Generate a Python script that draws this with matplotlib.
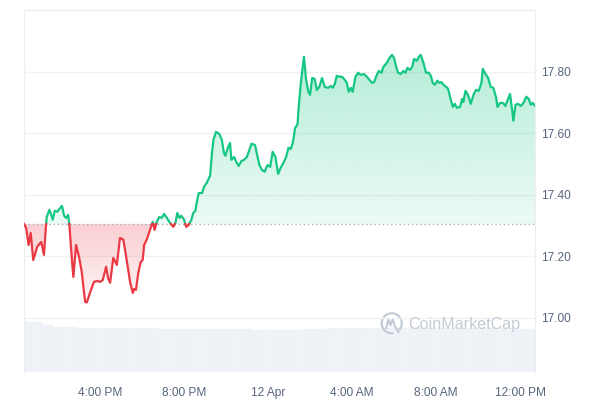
import numpy as np
import matplotlib.pyplot as plt
from matplotlib.patches import PathPatch, Arc
from matplotlib.path import Path

# hours since 12:00 PM, 11 Apr
hours = [0.38, 0.48, 0.60, 0.70, 0.82, 1.01, 1.20, 1.33, 1.43, 1.46,
         1.59, 1.65, 1.75, 1.84, 1.97, 2.06, 2.19, 2.29, 2.38, 2.48,
         2.54, 2.67, 2.73, 2.86, 3.01, 3.13, 3.29, 3.37, 3.52, 3.71,
         3.87, 4.00, 4.13, 4.29, 4.38, 4.48, 4.63, 4.80, 4.95, 5.11,
         5.27, 5.43, 5.56, 5.62, 5.71, 5.82, 5.94, 6.03, 6.10, 6.22,
         6.35, 6.41, 6.51, 6.60, 6.70, 6.82, 6.94, 7.05, 7.18, 7.33,
         7.49, 7.59, 7.68, 7.78, 7.87, 8.00, 8.10, 8.22, 8.35, 8.44,
         8.54, 8.60, 8.70, 8.86, 8.95, 9.08, 9.24, 9.33, 9.40, 9.52,
         9.68, 9.80, 9.90, 9.97, 10.10, 10.19, 10.25, 10.38, 10.51, 10.60,
         10.73, 10.86, 10.99, 11.08, 11.21, 11.38, 11.46, 11.59, 11.71, 11.84,
         11.97, 12.10, 12.22, 12.35, 12.48, 12.60, 12.73, 12.86, 12.97, 13.08,
         13.18, 13.29, 13.40, 13.46, 13.56, 13.65, 13.71, 13.81, 13.92, 14.00,
         14.10, 14.22, 14.32, 14.44, 14.57, 14.70, 14.86, 14.99, 15.08, 15.18,
         15.27, 15.40, 15.52, 15.65, 15.75, 15.84, 15.94, 16.03, 16.16, 16.29,
         16.41, 16.57, 16.70, 16.86, 16.95, 17.05, 17.14, 17.27, 17.40, 17.49,
         17.65, 17.78, 17.90, 18.00, 18.10, 18.19, 18.32, 18.44, 18.54, 18.63,
         18.76, 18.86, 18.95, 19.08, 19.18, 19.27, 19.40, 19.52, 19.65, 19.75,
         19.84, 19.94, 20.06, 20.16, 20.25, 20.35, 20.48, 20.57, 20.70, 20.80,
         20.89, 20.99, 21.14, 21.24, 21.30, 21.40, 21.52, 21.65, 21.78, 21.90,
         22.03, 22.16, 22.22, 22.35, 22.48, 22.60, 22.73, 22.86, 22.92, 23.05,
         23.18, 23.30, 23.43, 23.52, 23.62, 23.68, 23.78, 23.90, 24.03, 24.16,
         24.29, 24.41, 24.51, 24.60, 24.71]

price = [17.305, 17.293, 17.237, 17.276, 17.188, 17.231, 17.247, 17.205, 17.302, 17.328,
         17.351, 17.341, 17.319, 17.348, 17.345, 17.354, 17.364, 17.332, 17.325, 17.335,
         17.302, 17.182, 17.133, 17.237, 17.195, 17.149, 17.052, 17.050, 17.081, 17.117,
         17.120, 17.117, 17.123, 17.166, 17.130, 17.114, 17.195, 17.172, 17.260, 17.254,
         17.188, 17.117, 17.081, 17.094, 17.091, 17.146, 17.182, 17.188, 17.237, 17.254,
         17.280, 17.293, 17.312, 17.286, 17.312, 17.328, 17.325, 17.338, 17.325, 17.309,
         17.296, 17.309, 17.341, 17.325, 17.332, 17.319, 17.296, 17.302, 17.319, 17.341,
         17.348, 17.374, 17.406, 17.406, 17.426, 17.439, 17.462, 17.536, 17.579, 17.605,
         17.598, 17.579, 17.536, 17.527, 17.556, 17.569, 17.514, 17.523, 17.504, 17.494,
         17.510, 17.514, 17.523, 17.540, 17.566, 17.562, 17.536, 17.497, 17.481, 17.475,
         17.497, 17.491, 17.540, 17.523, 17.468, 17.488, 17.504, 17.523, 17.553, 17.549,
         17.569, 17.618, 17.628, 17.686, 17.764, 17.816, 17.849, 17.774, 17.735, 17.725,
         17.780, 17.777, 17.741, 17.751, 17.780, 17.751, 17.748, 17.754, 17.748, 17.761,
         17.787, 17.784, 17.784, 17.774, 17.764, 17.735, 17.748, 17.735, 17.784, 17.797,
         17.790, 17.793, 17.784, 17.771, 17.764, 17.767, 17.784, 17.803, 17.797, 17.816,
         17.829, 17.845, 17.855, 17.845, 17.816, 17.797, 17.793, 17.803, 17.797, 17.813,
         17.806, 17.816, 17.842, 17.836, 17.849, 17.855, 17.829, 17.797, 17.797, 17.787,
         17.764, 17.758, 17.771, 17.764, 17.767, 17.758, 17.751, 17.745, 17.709, 17.686,
         17.696, 17.683, 17.686, 17.712, 17.702, 17.738, 17.725, 17.696, 17.725, 17.741,
         17.738, 17.764, 17.810, 17.793, 17.780, 17.751, 17.748, 17.715, 17.686, 17.699,
         17.699, 17.689, 17.712, 17.728, 17.676, 17.641, 17.693, 17.696, 17.689, 17.699,
         17.719, 17.712, 17.693, 17.699, 17.689]

vol_hours = np.arange(0.5, 25.0, 0.5)
volume = [13.8, 13.7, 13.0, 12.5, 12.3, 12.2, 12.2, 12.1, 12.2, 12.2,
          12.1, 12.2, 12.1, 12.0, 11.9, 11.8, 11.8, 11.8, 11.9, 11.9,
          11.9, 11.9, 11.7, 11.6, 11.6, 11.6, 11.7, 11.8, 12.0, 12.1,
          12.2, 12.2, 12.2, 12.2, 12.2, 12.2, 12.1, 12.2, 12.2, 12.2,
          12.2, 12.1, 12.2, 12.2, 12.2, 12.1, 12.0, 11.9, 11.9]

tick_hours = [4, 8, 12, 16, 20, 24]
tick_labels = ["4:00 PM", "8:00 PM", "12 Apr", "4:00 AM", "8:00 AM", "12:00 PM"]
y_ticks = [17.0, 17.2, 17.4, 17.6, 17.8]

GREEN = "#16c784"
RED = "#ea3943"
TXT = "#58667e"
GRID = "#eff1f4"
xmin, xmax = 0.38, 24.71
ymin, ymax = 16.824, 18.001

plt.rcParams['font.family'] = ['Liberation Sans', 'DejaVu Sans']

t = np.array(hours)
p = np.array(price)
base = p[0]

# add the points where the line crosses the open price
tt = [t[0]]
pp = [p[0]]
for i in range(1, len(t)):
    a = p[i-1] - base
    b = p[i] - base
    if a * b < 0:
        f = a / (a - b)
        tt.append(t[i-1] + f * (t[i] - t[i-1]))
        pp.append(base)
    tt.append(t[i])
    pp.append(p[i])
tt = np.array(tt)
pp = np.array(pp)

fig = plt.figure(figsize=(6, 4), dpi=100)
ax = fig.add_axes([0.04, 0.07, 0.8517, 0.905])

# volume in the bottom band
ax2 = ax.twinx()
ax2.bar(vol_hours, volume, width=0.5, color="#eff2f6", edgecolor="#eaedf2", linewidth=0.25)
ax2.set_ylim(0, 100)
ax2.set_xlim(xmin, xmax)
ax2.axis("off")
ax.set_zorder(ax2.get_zorder() + 1)
ax.patch.set_visible(False)


def gradient_fill(coll, rgb, a_top, a_bot, y_top, y_bot):
    paths = coll.get_paths()
    coll.remove()
    if len(paths) == 0:
        return
    patch = PathPatch(Path.make_compound_path(*paths), transform=ax.transData,
                      facecolor="none", edgecolor="none")
    ax.add_patch(patch)
    img = np.zeros((256, 1, 4))
    img[..., 0], img[..., 1], img[..., 2] = rgb
    img[..., 3] = np.linspace(a_top, a_bot, 256)[:, None]
    im = ax.imshow(img, extent=[xmin, xmax, y_bot, y_top], origin="upper",
                   aspect="auto", zorder=1)
    im.set_clip_path(patch)


g = ax.fill_between(tt, pp, base, where=pp >= base, color="none")
gradient_fill(g, (22/255, 199/255, 132/255), 0.32, 0.08, p.max(), base)
r = ax.fill_between(tt, pp, base, where=pp <= base, color="none")
gradient_fill(r, (234/255, 57/255, 67/255), 0.25, 0.05, base, p.min())

ax.plot(tt, np.where(pp >= base, pp, np.nan), color=GREEN, lw=1.6, zorder=3)
ax.plot(tt, np.where(pp <= base, pp, np.nan), color=RED, lw=1.6, zorder=3)
ax.axhline(base, color="#a7b0bf", lw=1, linestyle=(0, (1, 2)), zorder=2)

for v in y_ticks:
    ax.axhline(v, color=GRID, lw=1, zorder=0)

ax.set_xlim(xmin, xmax)
ax.set_ylim(ymin, ymax)
ax.set_xticks(tick_hours)
ax.set_xticklabels(tick_labels)
ax.set_yticks(y_ticks)
ax.set_yticklabels(["%.2f" % v for v in y_ticks])
ax.yaxis.tick_right()
ax.tick_params(axis="y", length=0, pad=4, labelsize=8.6, labelcolor=TXT)
ax.tick_params(axis="x", length=0, pad=11, labelsize=8.6, labelcolor=TXT)
for s in ["top", "left", "right"]:
    ax.spines[s].set_color("#eceef2")
    ax.spines[s].set_linewidth(1)
ax.spines["bottom"].set_visible(False)

# watermark
wm = "#c4cbd7"
fig.text(408/600, 1 - 324/400, "CoinMarketCap", fontsize=11.6, color=wm,
         ha="left", va="center")
fig.add_artist(Arc((3.917, 0.767), 0.2, 0.2, theta1=-40, theta2=280,
                   transform=fig.dpi_scale_trans, color=wm, lw=1.6))
mx = np.array([-0.055, -0.035, -0.012, 0.0, 0.012, 0.03, 0.045, 0.07])
my = np.array([-0.045, 0.035, -0.02, 0.02, 0.035, -0.03, -0.05, -0.085])
ax.plot(3.917 + mx, 0.767 + my, color=wm, lw=1.6, transform=fig.dpi_scale_trans,
        clip_on=False)

fig.savefig("out.png", dpi=100)
